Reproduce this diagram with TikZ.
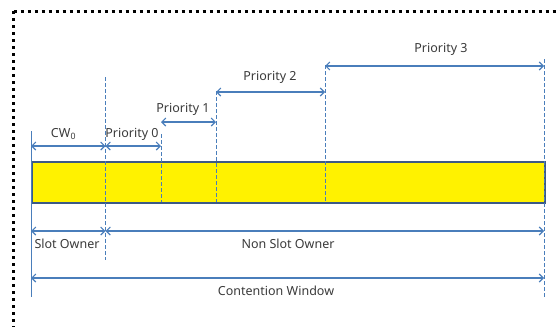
\documentclass[tikz,border=0pt]{standalone}
\usepackage{fontspec}
\setmainfont{Noto Sans}
\usetikzlibrary{arrows.meta}

\definecolor{dimblue}{HTML}{4A7EBB}
\definecolor{barframe}{HTML}{3C5A86}
\definecolor{labelgray}{HTML}{3A3A3A}

\begin{document}
\begin{tikzpicture}[
        x=1pt, y=-1pt,
        font=\fontsize{12.5}{14}\selectfont,
        dim/.style={draw=dimblue, line width=1.1pt, {Straight Barb[length=4pt,width=8pt]}-{Straight Barb[length=4pt,width=8pt]}},
        marker/.style={draw=dimblue, line width=0.9pt, dash pattern=on 4pt off 2pt},
        caption/.style={text=labelgray, inner sep=1pt},
        frame dots/.style={line width=3pt, dash pattern=on 3pt off 4pt},
    ]
    \useasboundingbox (0,0) rectangle (560,327);

    % dotted frame on the top and left
    \draw[frame dots] (13.5,11) -- (560,11);
    \draw[frame dots] (13.5,11) -- (13.5,327);

    % the window bar
    \node (bar) [draw=barframe, line width=1.6pt, fill=yellow, anchor=north west,
        minimum width=513pt, minimum height=41pt, inner sep=0pt] at (31,161) {};

    % boundaries: name / x / top / bottom
    \foreach \name/\x/\top/\bot in {m1/105.5/77/260, m2/161/134/202, m3/216/91/202, m4/325/65/202, m5/544/59/297} {
        \coordinate (\name) at (\x,0);
        \draw[marker] (\x,\top) -- (\x,\bot);
    }
    \coordinate (m0) at (31,0);
    \draw[dimblue, line width=0.9pt] (31,131) -- (31,297);

    % spans between boundaries
    \foreach \a/\b/\y in {0/1/146, 1/2/146, 2/3/122, 3/4/92, 4/5/66, 0/1/231, 1/5/231, 0/5/278} {
        \draw[dim] (m\a |- 0,\y) -- (m\b |- 0,\y);
    }

    % span labels
    \node[caption] (cw)    at (63.5,134) {CW\textsubscript{0}};
    \node[caption] (prio0) at (132,134) {Priority 0};
    \node[caption] (prio1) at (183,109) {Priority 1};
    \node[caption] (prio2) at (270,77)  {Priority 2};
    \node[caption] (prio3) at (441,49)  {Priority 3};
    \node[caption] (owner)    at (67,244)  {Slot Owner};
    \node[caption] (nonowner) at (288,244) {Non Slot Owner};
    \node[caption] (window)   at (276,291) {Contention Window};

\end{tikzpicture}
\end{document}
